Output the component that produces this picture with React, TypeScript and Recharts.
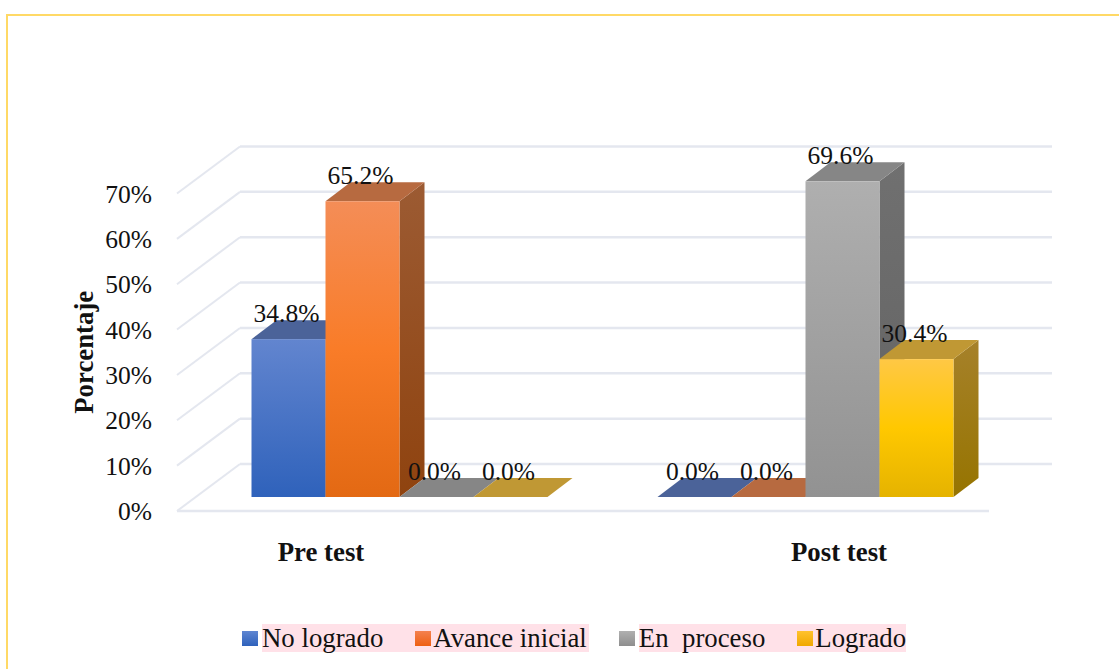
import { BarChart, Bar, XAxis, YAxis, CartesianGrid, Legend, LabelList } from 'recharts';

const categories = ['Pre test', 'Post test'];
const noLogrado = [34.8, 0];
const avanceInicial = [65.2, 0];
const enProceso = [0, 69.6];
const logrado = [0, 30.4];
const yTicks = [0, 10, 20, 30, 40, 50, 60, 70];

const data = categories.map((name, i) => ({
  name,
  noLogrado: noLogrado[i],
  avanceInicial: avanceInicial[i],
  enProceso: enProceso[i],
  logrado: logrado[i],
}));

const series = [
  { key: 'noLogrado', name: 'No logrado', stops: ['#6285CF', '#2F62BB'], top: '#4B6399', side: ['#4B6399', '#3A5590'], swatch: ['#5F86D2', '#2F62BB'] },
  { key: 'avanceInicial', name: 'Avance inicial', stops: ['#F48D57', '#F97C28', '#E36913'], top: '#B76A40', side: ['#9C5B33', '#8F430F'], swatch: ['#F4814F', '#EE5F12'] },
  { key: 'enProceso', name: 'En  proceso', stops: ['#AFAFAF', '#929292'], top: '#868686', side: ['#707070', '#626262'], swatch: ['#B0B0B0', '#8E8E8E'] },
  { key: 'logrado', name: 'Logrado', stops: ['#FFC845', '#FFC800', '#E5B300'], top: '#C09834', side: ['#A6812A', '#967400'], swatch: ['#FFC22E', '#F0A800'] },
];

const serif = '"Liberation Serif", serif';
const gridColor = '#E4E7EF';

// fake 3D: the floor runs back by this much, the bars stand part way in
const wallDx = 63;
const wallDy = -47;
const barDx = 19;
const barDy = -14;
const depthDx = 25;
const depthDy = -19;
const categoryShift = [-59, 53];

function WallLine({ x1, y1, x2, index }: any) {
  return (
    <g>
      {index === 0 && <line x1={x1} y1={y1} x2={x2} y2={y1} stroke={gridColor} strokeWidth={2.5} />}
      <line x1={x1} y1={y1} x2={x1 + wallDx} y2={y1 + wallDy} stroke={gridColor} strokeWidth={2} />
      <line x1={x1 + wallDx} y1={y1 + wallDy} x2={x2 + wallDx} y2={y1 + wallDy} stroke={gridColor} strokeWidth={2.5} />
    </g>
  );
}

function makeBox(s: (typeof series)[number]) {
  return function Box({ x, y, width, height }: any) {
    const fx = x + barDx;
    const fy = y + barDy;
    const r = fx + width;
    const b = fy + height;
    return (
      <g>
        {height > 0 && (
          <polygon
            points={`${r},${fy} ${r + depthDx},${fy + depthDy} ${r + depthDx},${b + depthDy} ${r},${b}`}
            fill={`url(#side-${s.key})`}
          />
        )}
        <polygon
          points={`${fx},${fy} ${r},${fy} ${r + depthDx},${fy + depthDy} ${fx + depthDx},${fy + depthDy}`}
          fill={s.top}
        />
        {height > 0 && <rect x={fx} y={fy} width={width} height={height} fill={`url(#front-${s.key})`} />}
      </g>
    );
  };
}

function ValueLabel({ x, y, width, value }: any) {
  return (
    <text
      x={x + barDx + width / 2 - 2}
      y={y + barDy - 17}
      textAnchor="middle"
      fontFamily={serif}
      fontSize={25.5}
      fill="#111"
    >
      {`${Number(value).toFixed(1)}%`}
    </text>
  );
}

function CategoryTick({ x, y, payload, index }: any) {
  return (
    <text x={x + categoryShift[index]} y={y} textAnchor="middle" fontFamily={serif} fontSize={26.8} fontWeight="bold" fill="#111">
      {payload.value}
    </text>
  );
}

function PercentTick({ y, payload }: any) {
  return (
    <text x={152} y={y + 9} textAnchor="end" fontFamily={serif} fontSize={25.5} fill="#111">
      {`${payload.value}%`}
    </text>
  );
}

function LegendRow({ payload }: any) {
  return (
    <div style={{ display: 'flex', fontFamily: serif, fontSize: 26.8, color: '#111', lineHeight: '28px', whiteSpace: 'pre' }}>
      {(payload || []).map((entry: any, i: number) => {
        const s = series[i];
        const pinkSpacer = i % 2 === 1;
        return (
          <div
            key={entry.value}
            style={{
              display: 'flex',
              alignItems: 'center',
              marginLeft: i === 2 ? 30 : 0,
              paddingLeft: pinkSpacer ? 32 : 0,
              paddingRight: i === 1 ? 2 : 0,
              background: pinkSpacer ? '#FFE1E8' : 'transparent',
            }}
          >
            <span
              style={{
                width: 16,
                height: 15,
                background: `linear-gradient(${s.swatch[0]}, ${s.swatch[1]})`,
                display: 'inline-block',
                marginRight: pinkSpacer ? 2 : 4,
              }}
            />
            <span style={{ background: '#FFE1E8' }}>{entry.value}</span>
          </div>
        );
      })}
    </div>
  );
}

export default function App() {
  return (
    <div style={{ position: 'absolute', left: 0, top: 0, width: 1119, height: 669, overflow: 'hidden', background: '#fff' }}>
      <div
        style={{
          position: 'absolute',
          left: 6,
          top: 14,
          width: 1119,
          height: 669,
          borderTop: '2px solid #FFD966',
          borderLeft: '2px solid #FFD966',
        }}
      />
      <div style={{ position: 'absolute', left: 0, top: 0 }}>
        <BarChart
          width={1119}
          height={669}
          data={data}
          margin={{ top: 193.5, right: 130, left: 0, bottom: 0 }}
          barCategoryGap={55.5}
          barGap={0}
        >
          <defs>
            {series.map((s) => (
              <linearGradient key={s.key} id={`front-${s.key}`} x1="0" y1="0" x2="0" y2="1">
                {s.stops.map((c, i) => (
                  <stop key={i} offset={i / (s.stops.length - 1)} stopColor={c} />
                ))}
              </linearGradient>
            ))}
            {series.map((s) => (
              <linearGradient key={s.key} id={`side-${s.key}`} x1="0" y1="0" x2="0" y2="1">
                <stop offset={0} stopColor={s.side[0]} />
                <stop offset={1} stopColor={s.side[1]} />
              </linearGradient>
            ))}
          </defs>
          <CartesianGrid vertical={false} horizontal={(props: any) => <WallLine key={props.index} {...props} />} />
          <XAxis
            dataKey="name"
            height={158}
            axisLine={false}
            tickLine={false}
            tickMargin={0}
            tick={(props: any) => <CategoryTick {...props} y={561} />}
          />
          <YAxis
            width={177}
            domain={[0, 70]}
            ticks={yTicks}
            interval={0}
            axisLine={false}
            tickLine={false}
            tick={(props: any) => <PercentTick {...props} />}
            label={{
              value: 'Porcentaje',
              angle: -90,
              position: 'insideLeft',
              offset: 83,
              style: { textAnchor: 'middle', fontFamily: serif, fontSize: 26.8, fontWeight: 'bold', fill: '#111' },
            }}
          />
          <Legend
            verticalAlign="middle"
            itemSorter={null}
            wrapperStyle={{ position: 'absolute', left: 242, top: 624, width: 720 }}
            content={(props: any) => <LegendRow {...props} />}
          />
          {series.map((s) => (
            <Bar key={s.key} dataKey={s.key} name={s.name} fill={s.stops[0]} shape={makeBox(s)} isAnimationActive={false}>
              <LabelList dataKey={s.key} content={(props: any) => <ValueLabel {...props} />} />
            </Bar>
          ))}
        </BarChart>
      </div>
    </div>
  );
}
